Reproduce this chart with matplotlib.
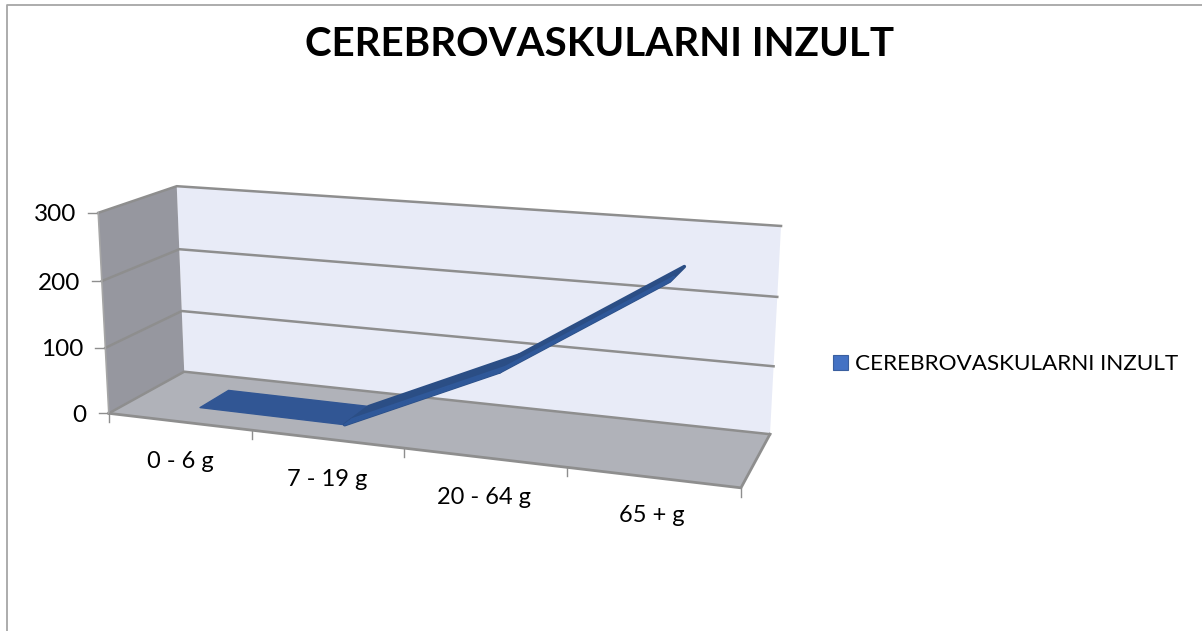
import numpy as np
import matplotlib
matplotlib.use('Agg')
import matplotlib.pyplot as plt
from matplotlib.patches import Polygon, Rectangle

plt.rcParams['font.family'] = ['Lato', 'DejaVu Sans']

# data
title = 'CEREBROVASKULARNI INZULT'
categories = ['0 - 6 g', '7 - 19 g', '20 - 64 g', '65 + g']
values = [2, 1, 103, 250]
y_ticks = [0, 100, 200, 300]

# chart box corners (category, value, depth) -> picture pixels
box_3d = np.array([[0, 0, 0], [4, 0, 0], [0, 300, 0], [0, 0, 1],
                   [4, 0, 1], [0, 300, 1], [4, 300, 1]], dtype=float)
box_px = np.array([[109, 413], [741, 488], [98, 213], [184, 372],
                   [770, 434], [177, 186], [781, 226]], dtype=float)


def fit_camera(pts, px):
    rows = []
    for (a, b, c), (u, v) in zip(pts, px):
        rows.append([a, b, c, 1, 0, 0, 0, 0, -u * a, -u * b, -u * c, -u])
        rows.append([0, 0, 0, 0, a, b, c, 1, -v * a, -v * b, -v * c, -v])
    scale = np.array([1, 1 / 300, 1, 1] * 2 + [1, 1 / 300, 1, 1])
    m = np.array(rows) * scale
    return (np.linalg.svd(m)[2][-1] * scale).reshape(3, 4)


cam = fit_camera(box_3d, box_px)


def proj(c, v, d):
    p = cam @ np.array([c, v, d, 1.0])
    return p[0] / p[2], p[1] / p[2]


fig = plt.figure(figsize=(12.02, 6.31), dpi=100)
ax = fig.add_axes([0, 0, 1, 1])
ax.set_xlim(0, 1202)
ax.set_ylim(631, 0)
ax.axis('off')

# outer frame
ax.plot([7, 7, 1202], [631, 5, 5], color='#a6a6a6', lw=1.3, zorder=1)

# walls
wall = [proj(0, 0, 1), proj(4, 0, 1), proj(4, 300, 1), proj(0, 300, 1)]
side = [proj(0, 0, 0), proj(0, 0, 1), proj(0, 300, 1), proj(0, 300, 0)]
floor = [proj(0, 0, 0), proj(4, 0, 0), proj(4, 0, 1), proj(0, 0, 1)]
ax.add_patch(Polygon(wall, fc='#e8ebf7', ec='none', zorder=2))
ax.add_patch(Polygon(side, fc='#96979f', ec='none', zorder=2))
ax.add_patch(Polygon(floor, fc='#b0b2b9', ec='none', zorder=2))

grid_c = '#8e8e8e'
for t in y_ticks:
    pts = np.array([proj(0, t, 0), proj(0, t, 1), proj(4, t, 1)])
    ax.plot(pts[:, 0], pts[:, 1], color=grid_c, lw=1.8, zorder=3)
    # value tick + label
    x0, y0 = proj(0, t, 0)
    ax.plot([x0 - 10, x0], [y0, y0], color=grid_c, lw=1.0, zorder=3)
    ax.text(x0 - 22, y0 + 2, str(t), ha='right', va='center', fontsize=17.5, color='black')

pts = np.array([proj(0, 0, 0), proj(4, 0, 0), proj(4, 0, 1)])
ax.plot(pts[:, 0], pts[:, 1], color=grid_c, lw=2, zorder=3)
pts = np.array([proj(0, 0, 0), proj(0, 300, 0)])
ax.plot(pts[:, 0], pts[:, 1], color='#a6a6a6', lw=1.2, zorder=3)

for i in range(5):
    x0, y0 = proj(i, 0, 0)
    ax.plot([x0, x0], [y0, y0 + 9], color=grid_c, lw=1.0, zorder=3)

label_px = [(180, 461), (327, 479), (484, 498), (652, 516)]
for name, (lx, ly) in zip(categories, label_px):
    ax.text(lx, ly, name, ha='center', va='center', fontsize=17, color='black')

# the ribbon
d0, d1 = 0.28, 0.68
cs = np.arange(len(values)) + 0.5
flat = '#315694'
dark = '#2b4e85'
light = '#2f5899'
for i in range(len(values) - 1):
    a, b = cs[i], cs[i + 1]
    va, vb = values[i], values[i + 1]
    col = flat if i == 0 else dark
    ax.add_patch(Polygon([proj(a, va, d0), proj(b, vb, d0), proj(b, vb, d1), proj(a, va, d1)],
                         fc=col, ec=col, lw=1.0 if i == 0 else 2.5, joinstyle='round', zorder=4))
    if i > 0:
        dm = d0 + 0.3 * (d1 - d0)
        ax.add_patch(Polygon([proj(a, va, d0), proj(b, vb, d0), proj(b, vb, dm), proj(a, va, dm)],
                             fc=light, ec=light, lw=1.5, joinstyle='round', zorder=5))

# title, legend
ax.text(600, 44, title, ha='center', va='center', fontsize=29, fontweight='bold', color='black')
ax.add_patch(Rectangle((833, 355), 15, 15, fc='#4472c4', ec='#3a5f9f', lw=0.8, zorder=4))
ax.text(855, 364, title, ha='left', va='center', fontsize=16.2, color='black')

fig.savefig('out.png', dpi=100)
